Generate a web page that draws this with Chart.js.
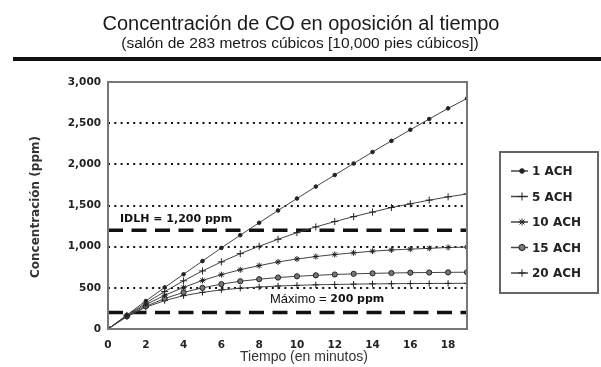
<!DOCTYPE html>
<html>
<head>
<meta charset="utf-8">
<script src="https://cdn.jsdelivr.net/npm/chart.js@4.4.1/dist/chart.umd.min.js"></script>
<style>
  html, body { margin: 0; padding: 0; background: #fff; }
  #wrap { width: 601px; height: 367px; position: relative; }
</style>
</head>
<body>
<div id="wrap"><canvas id="chart" width="601" height="367"></canvas></div>
<script>
// Datos (ppm por minuto)
const minutos = [0, 1, 2, 3, 4, 5, 6, 7, 8, 9, 10, 11, 12, 13, 14, 15, 16, 17, 18, 19];
const ach1  = [0, 170, 340, 505, 665, 825, 985, 1140, 1290, 1440, 1585, 1730, 1870, 2010, 2150, 2285, 2420, 2550, 2680, 2800];
const ach5  = [0, 165, 315, 455, 585, 705, 815, 915, 1005, 1090, 1170, 1240, 1305, 1365, 1420, 1475, 1520, 1565, 1605, 1640];
const ach10 = [0, 160, 295, 410, 505, 590, 660, 720, 770, 815, 850, 880, 905, 925, 945, 960, 970, 980, 990, 995];
const ach15 = [0, 155, 275, 370, 445, 500, 545, 580, 605, 625, 640, 652, 662, 670, 676, 680, 684, 686, 688, 690];
const ach20 = [0, 150, 265, 345, 405, 445, 475, 495, 510, 522, 530, 537, 541, 545, 548, 550, 552, 553, 554, 555];
const etiquetas = ['1 ACH', '5 ACH', '10 ACH', '15 ACH', '20 ACH'];
const yTicks = [0, 500, 1000, 1500, 2000, 2500, 3000];
const xTicks = [0, 2, 4, 6, 8, 10, 12, 14, 16, 18];
const idlh = 1200;
const maximo = 200;

const series = [ach1, ach5, ach10, ach15, ach20];
const marcas = [
  { style: 'circle', r: 1.8, fill: '#222' },
  { style: 'cross', r: 3.5, fill: '#222' },
  { style: 'star', r: 3, fill: '#222' },
  { style: 'circle', r: 2.6, fill: '#777' },
  { style: 'cross', r: 3.2, fill: '#222' }
];

const datasets = series.map((vals, i) => ({
  label: etiquetas[i],
  data: vals.map((v, j) => ({ x: minutos[j], y: v })),
  borderColor: '#444',
  borderWidth: 1,
  pointStyle: marcas[i].style,
  pointRadius: marcas[i].r,
  pointBackgroundColor: marcas[i].fill,
  pointBorderColor: '#222',
  pointBorderWidth: 1,
  fill: false,
  tension: 0
}));

function limite(v) {
  return {
    label: 'lim' + v,
    data: [{ x: 0, y: v }, { x: 19, y: v }],
    borderColor: '#111',
    borderWidth: 3.5,
    borderDash: [15, 8.5],
    pointRadius: 0,
    fill: false
  };
}
datasets.push(limite(idlh), limite(maximo));

const font = 'DejaVu Sans';

const decor = {
  id: 'decor',
  afterDraw(chart) {
    const ctx = chart.ctx;
    const a = chart.chartArea;
    const ys = chart.scales.y;
    ctx.save();
    // marco del area
    ctx.strokeStyle = '#777';
    ctx.lineWidth = 2;
    ctx.strokeRect(a.left, a.top, a.right - a.left, a.bottom - a.top);

    // titulo
    ctx.fillStyle = '#1a1a1a';
    ctx.textAlign = 'center';
    ctx.textBaseline = 'alphabetic';
    ctx.font = '20px "Liberation Sans"';
    ctx.fillText('Concentración de CO en oposición al tiempo', 301, 30);
    ctx.font = '15.5px "Liberation Sans"';
    ctx.fillText('(salón de 283 metros cúbicos [10,000 pies cúbicos])', 300, 48);
    ctx.fillStyle = '#111';
    ctx.fillRect(13, 57, 588, 4);

    // titulos de ejes
    ctx.fillStyle = '#333';
    ctx.font = '14px "Liberation Sans"';
    ctx.textBaseline = 'middle';
    ctx.fillText('Tiempo (en minutos)', 304, 357);
    ctx.save();
    ctx.translate(36, 207);
    ctx.rotate(-Math.PI / 2);
    ctx.font = 'bold 12px "' + font + '"';
    ctx.fillText('Concentración (ppm)', 0, 0);
    ctx.restore();

    // etiquetas de limites
    ctx.fillStyle = '#111';
    ctx.textAlign = 'left';
    ctx.font = 'bold 11px "' + font + '"';
    ctx.fillText('IDLH = 1,200 ppm', 120, ys.getPixelForValue(idlh) - 11);
    const ym = ys.getPixelForValue(maximo) - 13;
    ctx.font = '13px "Liberation Sans"';
    ctx.fillText('Máximo = ', 270, ym);
    const w = ctx.measureText('Máximo = ').width;
    ctx.font = 'bold 11px "' + font + '"';
    ctx.fillText('200 ppm', 270 + w, ym);

    // leyenda
    const lx = 500, ly = 152, lw = 98, lh = 141;
    ctx.strokeStyle = '#666';
    ctx.lineWidth = 2;
    ctx.strokeRect(lx, ly, lw, lh);
    etiquetas.forEach((t, i) => {
      const y = ly + 19 + i * 25.5;
      ctx.strokeStyle = '#444';
      ctx.lineWidth = 1.5;
      ctx.beginPath();
      ctx.moveTo(lx + 11, y);
      ctx.lineTo(lx + 28, y);
      ctx.stroke();
      ctx.fillStyle = marcas[i].fill;
      ctx.strokeStyle = '#222';
      ctx.lineWidth = 1;
      Chart.helpers.drawPoint(ctx, { pointStyle: marcas[i].style, radius: marcas[i].r + 0.5, rotation: 0, borderWidth: 1 }, lx + 22, y);
      ctx.fillStyle = '#222';
      ctx.font = 'bold 12px "' + font + '"';
      ctx.textAlign = 'left';
      ctx.fillText(t, lx + 32, y + 1);
    });
    ctx.restore();
  }
};

new Chart(document.getElementById('chart'), {
  type: 'line',
  data: { datasets },
  options: {
    responsive: false,
    animation: false,
    layout: { padding: { left: 30, top: 82, right: 134, bottom: 0 } },
    plugins: { legend: { display: false }, tooltip: { enabled: false } },
    scales: {
      x: {
        type: 'linear',
        min: 0,
        max: 19,
        afterFit: s => { s.height = 38; },
        afterBuildTicks: s => { s.ticks = xTicks.map(v => ({ value: v })); },
        grid: { display: false, drawTicks: false },
        border: { display: false },
        ticks: {
          padding: 10,
          color: '#222',
          font: { family: font, weight: 'bold', size: 10.5 },
          maxRotation: 0,
          autoSkip: false
        }
      },
      y: {
        min: 0,
        max: 3000,
        afterFit: s => { s.width = 78; },
        afterBuildTicks: s => { s.ticks = yTicks.map(v => ({ value: v })); },
        grid: {
          drawTicks: false,
          color: c => (c.tick && (c.tick.value === 0 || c.tick.value === 3000)) ? 'rgba(0,0,0,0)' : '#111',
          lineWidth: 2
        },
        border: { display: false, dash: [2, 4.3] },
        ticks: {
          padding: 7,
          color: '#222',
          font: { family: font, weight: 'bold', size: 10.5 },
          callback: v => v.toLocaleString('en-US')
        }
      }
    }
  },
  plugins: [decor]
});
</script>
</body>
</html>
